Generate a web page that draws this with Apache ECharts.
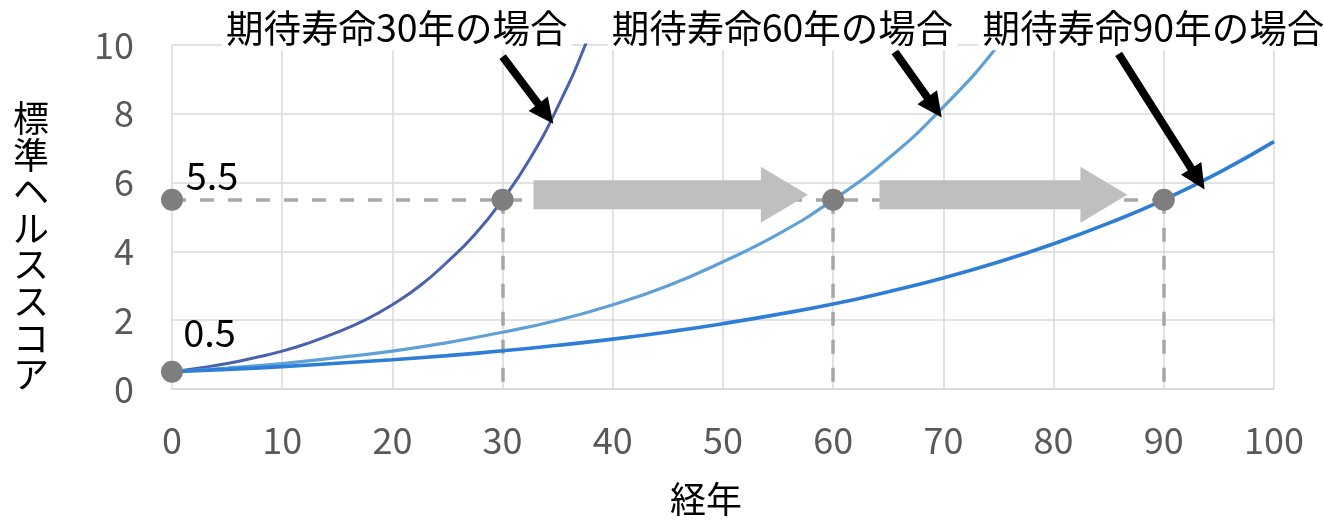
<!DOCTYPE html>
<html><head><meta charset="utf-8">
<script src="https://cdn.jsdelivr.net/npm/echarts@6/dist/echarts.min.js"></script>
<style>html,body{margin:0;padding:0;background:#fff}#c{width:1324px;height:522px}</style>
</head><body><div id="c"></div>
<script>
// ---- data ----
const years30 = [0, 2.5, 5, 7.5, 10, 12.5, 15, 17.5, 20, 22.5, 25, 27.5, 30, 32.5, 35, 37.5, 40];
const score30 = [0.5, 0.61, 0.74, 0.91, 1.1, 1.35, 1.65, 2.0, 2.45, 3.0, 3.7, 4.5, 5.5, 6.7, 8.2, 10.0, 12.2];
const years60 = [0, 5, 10, 15, 20, 25, 30, 35, 40, 45, 50, 55, 60, 65, 70, 75, 80];
const score60 = [0.5, 0.61, 0.74, 0.91, 1.1, 1.35, 1.65, 2.0, 2.45, 3.0, 3.7, 4.5, 5.5, 6.7, 8.2, 10.0, 12.2];
const years90 = [0, 5, 10, 15, 20, 25, 30, 35, 40, 45, 50, 55, 60, 65, 70, 75, 80, 85, 90, 95, 100];
const score90 = [0.5, 0.57, 0.65, 0.75, 0.85, 0.97, 1.11, 1.27, 1.45, 1.66, 1.9, 2.17, 2.47, 2.83, 3.23, 3.69, 4.22, 4.82, 5.5, 6.29, 7.19];

const markerX = [0, 0, 30, 60, 90];
const markerY = [0.5, 5.5, 5.5, 5.5, 5.5];
const markerLabels = ['0.5', '5.5', '', '', ''];

const guideLevel = 5.5;
const guideX = [30, 60, 90];

const blockFrom = [[32.8, 5.65], [64.2, 5.65]];
const blockTo = [[57.7, 5.65], [86.7, 5.65]];

const pointerFrom = [[30.0, 9.66], [65.6, 9.8], [85.9, 9.74]];
const pointerTo = [[34.6, 7.71], [69.85, 7.89], [93.7, 5.8]];

const titleText = ['期待寿命30年の場合', '期待寿命60年の場合', '期待寿命90年の場合'];
const titleAt = [[20.4, 10.51], [55.4, 10.51], [89.05, 10.51]];

const xTickValues = [0, 10, 20, 30, 40, 50, 60, 70, 80, 90, 100];
const yTickValues = [0, 2, 4, 6, 8, 10];
const xName = '経年';
const yName = '標準ヘルススコア';

// ---- build ----
const FONT = '"Noto Sans CJK JP", "Noto Sans", sans-serif';
const zip = (xs, ys) => xs.map((x, i) => [x, ys[i]]);

function arrowPoints(p1, p2, shaftHalf, headHalf, headLen) {
  const dx = p2[0] - p1[0], dy = p2[1] - p1[1];
  const L = Math.hypot(dx, dy);
  const ux = dx / L, uy = dy / L, nx = -uy, ny = ux;
  const bx = p2[0] - ux * headLen, by = p2[1] - uy * headLen;
  return [
    [p1[0] + nx * shaftHalf, p1[1] + ny * shaftHalf],
    [bx + nx * shaftHalf, by + ny * shaftHalf],
    [bx + nx * headHalf, by + ny * headHalf],
    [p2[0], p2[1]],
    [bx - nx * headHalf, by - ny * headHalf],
    [bx - nx * shaftHalf, by - ny * shaftHalf],
    [p1[0] - nx * shaftHalf, p1[1] - ny * shaftHalf]
  ];
}

function arrowSeries(from, to, fill, shaftHalf, headHalf, headLen, z) {
  return {
    type: 'custom', z: z, silent: true, clip: false,
    encode: { x: [0, 2], y: [1, 3] },
    data: from.map((f, i) => [f[0], f[1], to[i][0], to[i][1]]),
    renderItem: function (params, api) {
      const p1 = api.coord([api.value(0), api.value(1)]);
      const p2 = api.coord([api.value(2), api.value(3)]);
      return { type: 'polygon', shape: { points: arrowPoints(p1, p2, shaftHalf, headHalf, headLen) }, style: { fill: fill } };
    }
  };
}

const guideLines = [{ coords: [[0, guideLevel], [guideX[guideX.length - 1], guideLevel]] }]
  .concat(guideX.map(x => ({ coords: [[x, guideLevel], [x, 0]] })));

const chart = echarts.init(document.getElementById('c'), null, { renderer: 'canvas' });
chart.setOption({
  animation: false,
  backgroundColor: '#fff',
  textStyle: { fontFamily: FONT },
  grid: { left: 172, right: 50, top: 45, bottom: 126 },
  xAxis: {
    type: 'value', min: xTickValues[0], max: xTickValues[xTickValues.length - 1], interval: 10,
    name: xName, nameLocation: 'middle', nameGap: 92,
    nameTextStyle: { color: '#000', fontSize: 36, fontFamily: FONT, padding: [0, 34, 0, 0] },
    axisLine: { show: true, lineStyle: { color: '#d9d9d9', width: 1.5 } },
    axisTick: { show: false },
    axisLabel: { color: '#595959', fontSize: 36, fontFamily: FONT, margin: 33 },
    splitLine: { show: true, lineStyle: { color: '#d9d9d9', width: 1.5 } }
  },
  yAxis: {
    type: 'value', min: yTickValues[0], max: yTickValues[yTickValues.length - 1], interval: 2,
    axisLine: { show: false }, axisTick: { show: false },
    axisLabel: { color: '#595959', fontSize: 36, fontFamily: FONT, margin: 38 },
    splitLine: { show: true, lineStyle: { color: '#d9d9d9', width: 1.5 } }
  },
  graphic: [{
    type: 'text', x: 31, y: 100, z: 10,
    style: { text: yName.split('').join('\n'), font: '36px ' + FONT, lineHeight: 36.6, fill: '#000', align: 'center', verticalAlign: 'top' }
  }],
  series: [
    {
      type: 'lines', coordinateSystem: 'cartesian2d', z: 2, silent: true,
      polyline: false, data: guideLines,
      lineStyle: { color: '#a6a6a6', width: 3.5, type: [14, 14], opacity: 1 }
    },
    arrowSeries(blockFrom, blockTo, '#bfbfbf', 14.5, 28, 47, 3),
    {
      type: 'line', z: 4, data: zip(years30, score30), smooth: true,
      showSymbol: false, clip: true, lineStyle: { color: '#4a62ad', width: 3 }
    },
    {
      type: 'line', z: 4, data: zip(years60, score60), smooth: true,
      showSymbol: false, clip: true, lineStyle: { color: '#5fa0d6', width: 3.2 }
    },
    {
      type: 'line', z: 4, data: zip(years90, score90), smooth: true,
      showSymbol: false, clip: true, lineStyle: { color: '#2e7dd6', width: 3.6 }
    },
    {
      type: 'scatter', z: 5, symbolSize: 22, itemStyle: { color: '#7f7f7f', opacity: 1 },
      data: markerX.map((x, i) => {
        const item = { value: [x, markerY[i]] };
        if (markerLabels[i]) {
          item.label = {
            show: true, formatter: markerLabels[i], color: '#000', fontSize: 38, fontFamily: FONT,
            position: i === 0 ? [48.5, -28] : [51, -13], align: 'center', verticalAlign: 'middle'
          };
        }
        return item;
      })
    },
    arrowSeries(pointerFrom, pointerTo, '#000', 4, 12, 25, 6),
    {
      type: 'custom', z: 8, silent: true, clip: false,
      encode: { x: 0, y: 1 },
      data: titleAt.map((p, i) => [p[0], p[1], i]),
      renderItem: function (params, api) {
        const p = api.coord([api.value(0), api.value(1)]);
        return {
          type: 'text', x: p[0], y: p[1],
          style: {
            text: titleText[api.value(2)], fill: '#000', font: '37.5px ' + FONT,
            align: 'center', verticalAlign: 'middle', backgroundColor: '#fff', padding: [2, 4, 6, 4]
          }
        };
      }
    }
  ]
});
</script></body></html>
